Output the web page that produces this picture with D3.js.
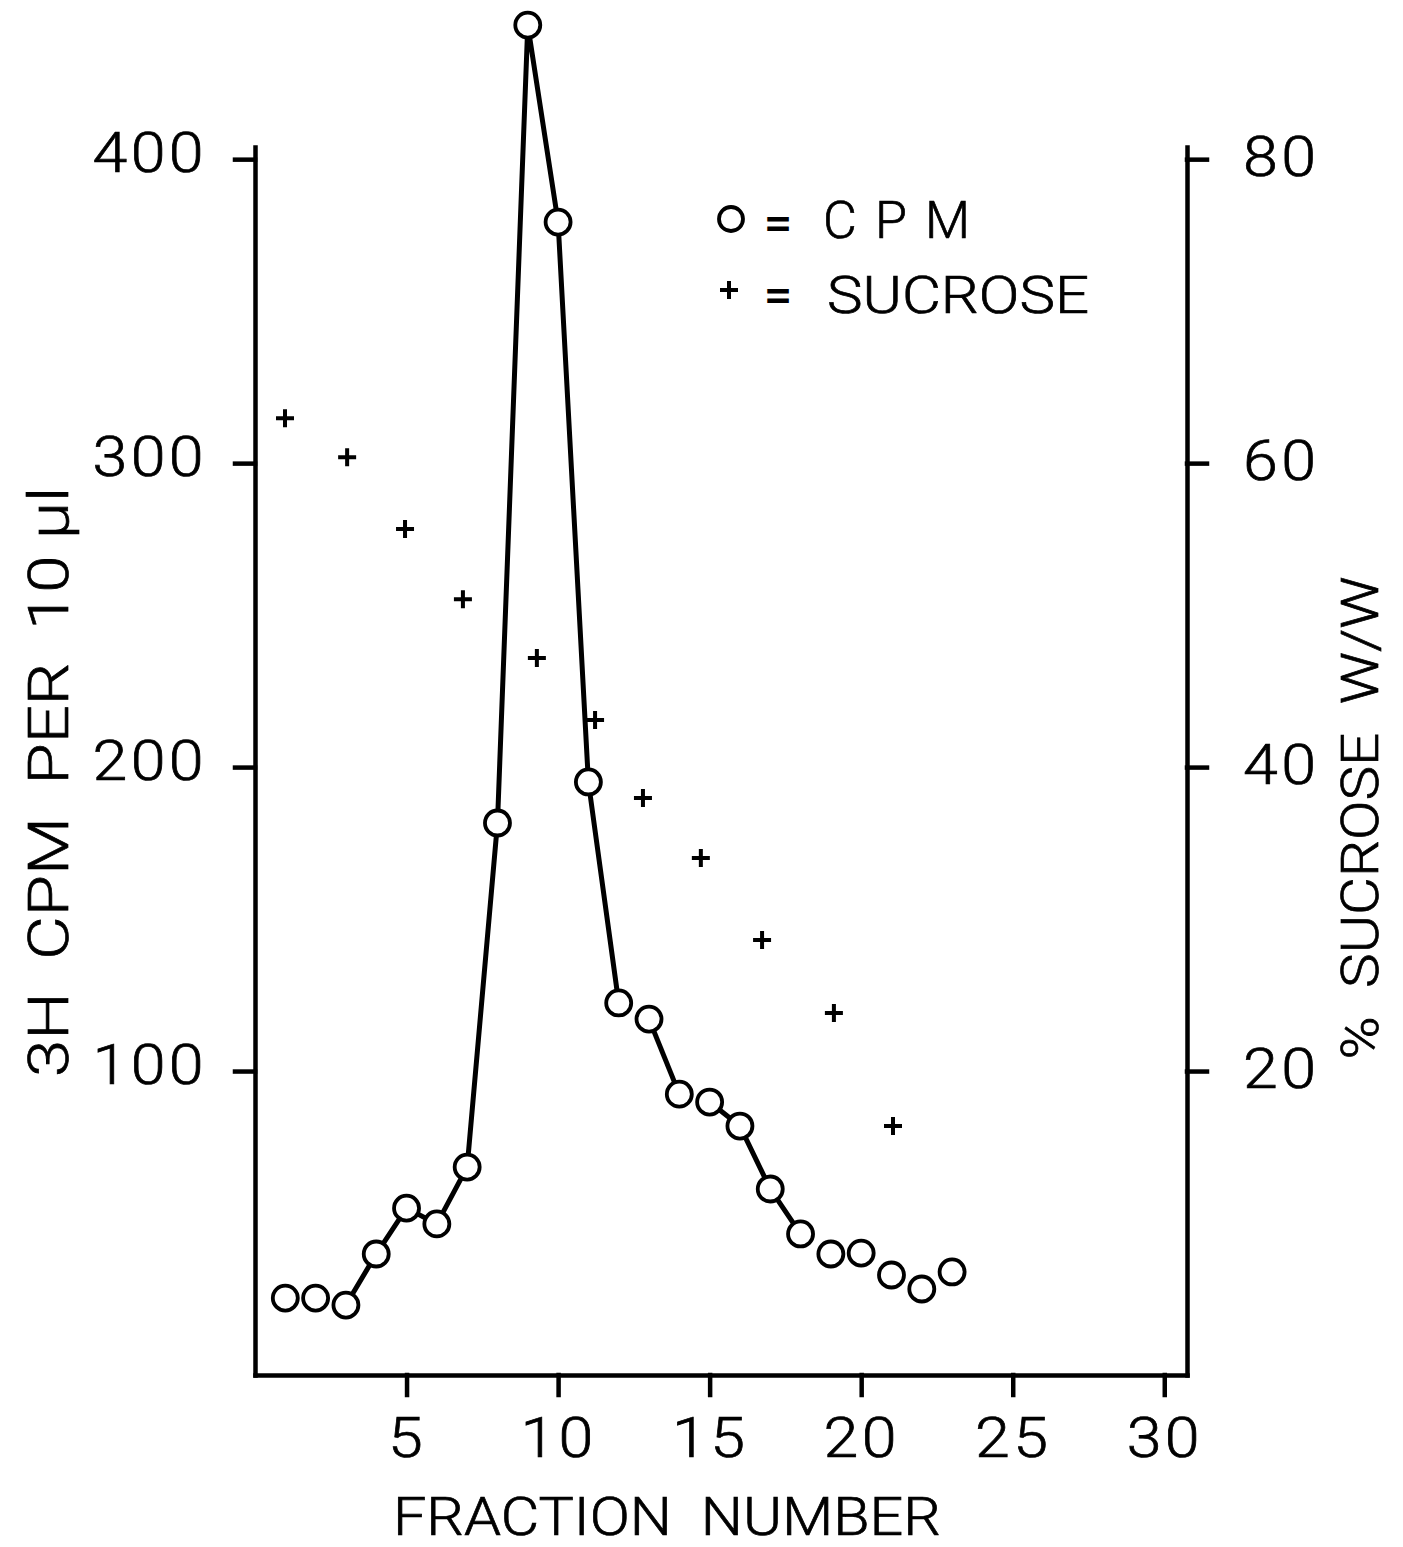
<!DOCTYPE html>
<html>
<head>
<meta charset="utf-8">
<script src="https://cdn.jsdelivr.net/npm/d3@7"></script>
<style>
    body { margin: 0; background: #fff; }
    svg text { font-family: Roboto, "DejaVu Sans", sans-serif; font-weight: 300; fill: #000; stroke: #000; stroke-width: 0.7px; }
</style>
</head>
<body>
<div id="chart" style="width:1403px;height:1547px"></div>
<script>
// fraction number and 3H cpm per 10 ul (circles)
const fractions = d3.range(1, 24);
const cpm = [25.3, 25.3, 23.0, 39.8, 54.9, 49.7, 68.4, 181.6, 444.1, 379.3, 195.1, 122.4,
    117.1, 92.4, 89.8, 81.9, 61.2, 46.4, 39.8, 40.1, 32.9, 28.3, 33.9];
// stretches of fractions the pen joined up
const cpmRuns = [[3, 12], [13, 14], [15, 18]];

const sucroseFraction = [0.99, 3.04, 4.95, 6.86, 9.30, 11.22, 12.80, 14.71, 16.73, 19.10, 21.05];
const sucrose = [62.96, 60.39, 55.66, 51.05, 47.17, 43.09, 37.96, 34.01, 28.62, 23.82, 16.38];

const xTicks = [5, 10, 15, 20, 25, 30];
const cpmTicks = [100, 200, 300, 400];
const sucroseTicks = [20, 40, 60, 80];
const xMax = 30.75, cpmMax = 404, sucroseMax = 80.8;

function fractionChart (el) {
    const _width = el.offsetWidth;
    const _height = el.offsetHeight;
    const _margins = { top: 147, left: 255, right: 216, bottom: 172 };
    const _w = _width - _margins.left - _margins.right;
    const _h = _height - _margins.top - _margins.bottom;

    const _x = d3.scaleLinear().domain([0, xMax]).range([0, _w]);
    const _yL = d3.scaleLinear().domain([0, cpmMax]).range([_h, 0]);
    const _yR = d3.scaleLinear().domain([0, sucroseMax]).range([_h, 0]);

    const svg = d3.select(el).append('svg')
        .attr('width', _width)
        .attr('height', _height);

    const g = svg.append('g')
        .attr('transform', 'translate(' + _margins.left + ',' + _margins.top + ')');

    // widen the glyphs a bit, the lettering guide was broad
    function widen (sel, k) {
        sel.each(function () {
            const w = this.getComputedTextLength();
            d3.select(this)
                .attr('textLength', w * k)
                .attr('lengthAdjust', 'spacingAndGlyphs');
        });
    }

    function styleAxis (sel) {
        sel.selectAll('path.domain, line')
            .attr('stroke', '#000')
            .attr('stroke-width', 4.5)
            .attr('stroke-linecap', 'square');
        sel.selectAll('text')
            .attr('font-size', 56)
            .attr('letter-spacing', 3)
            .call(widen, 1.12);
        sel.attr('font-family', null);
    }

    g.append('g')
        .attr('transform', 'translate(0,' + _h + ')')
        .call(d3.axisBottom(_x).tickValues(xTicks).tickSize(20).tickSizeOuter(0).tickPadding(22))
        .call(styleAxis);

    g.append('g')
        .call(d3.axisLeft(_yL).tickValues(cpmTicks).tickSize(20).tickSizeOuter(0).tickPadding(28))
        .call(styleAxis)
        .selectAll('text').attr('dy', '0.22em');

    g.append('g')
        .attr('transform', 'translate(' + _w + ',0)')
        .call(d3.axisRight(_yR).tickValues(sucroseTicks).tickSize(20).tickSizeOuter(0).tickPadding(36))
        .call(styleAxis)
        .selectAll('text').attr('dy', '0.3em');

    // cpm line, only where the points were joined
    const pts = fractions.map((f, i) => ({ x: f, y: cpm[i] }));
    const line = d3.line()
        .x(d => _x(d.x))
        .y(d => _yL(d.y));

    g.selectAll('path.cpm')
        .data(cpmRuns.map(r => pts.filter(d => d.x >= r[0] && d.x <= r[1])))
        .enter()
        .append('path')
        .attr('class', 'cpm')
        .attr('fill', 'none')
        .attr('stroke', '#000')
        .attr('stroke-width', 5)
        .attr('stroke-linejoin', 'round')
        .attr('d', line);

    g.selectAll('circle.cpm')
        .data(pts)
        .enter()
        .append('circle')
        .attr('class', 'cpm')
        .attr('cx', d => _x(d.x))
        .attr('cy', d => _yL(d.y))
        .attr('r', 12.5)
        .attr('fill', '#fff')
        .attr('stroke', '#000')
        .attr('stroke-width', 3.8);

    const cross = 'M-9,0H9M0,-9V9';
    g.selectAll('path.sucrose')
        .data(sucrose.map((v, i) => ({ x: sucroseFraction[i], y: v })))
        .enter()
        .append('path')
        .attr('class', 'sucrose')
        .attr('transform', d => 'translate(' + _x(d.x) + ',' + _yR(d.y) + ')')
        .attr('d', cross)
        .attr('stroke', '#000')
        .attr('stroke-width', 4);

    // legend
    const leg = svg.append('g');
    leg.append('circle')
        .attr('cx', 731).attr('cy', 219).attr('r', 12)
        .attr('fill', '#fff').attr('stroke', '#000').attr('stroke-width', 3.8);
    leg.append('path')
        .attr('transform', 'translate(729,290)')
        .attr('d', cross)
        .attr('stroke', '#000').attr('stroke-width', 4);
    [['=', 778, 240], ['=', 778, 312]].forEach(t => {
        leg.append('text').attr('x', t[1]).attr('y', t[2])
            .attr('text-anchor', 'middle').attr('font-size', 48)
            .style('stroke-width', '2px').text(t[0]);
    });
    leg.append('text').attr('x', 823).attr('y', 238)
        .attr('font-size', 52).attr('textLength', 147).attr('lengthAdjust', 'spacing')
        .text('C P M');
    leg.append('text').attr('x', 827).attr('y', 313)
        .attr('font-size', 52).attr('textLength', 262).attr('lengthAdjust', 'spacingAndGlyphs')
        .text('SUCROSE');

    // axis titles
    svg.append('text')
        .attr('x', 667).attr('y', 1535)
        .attr('text-anchor', 'middle')
        .attr('font-size', 54)
        .attr('textLength', 548).attr('lengthAdjust', 'spacingAndGlyphs')
        .attr('xml:space', 'preserve')
        .text('FRACTION  NUMBER');

    svg.append('text')
        .attr('transform', 'translate(68,782) rotate(-90)')
        .attr('text-anchor', 'middle')
        .attr('font-size', 56)
        .attr('textLength', 590).attr('lengthAdjust', 'spacingAndGlyphs')
        .attr('xml:space', 'preserve')
        .text('3H  CPM  PER  10 \u03bcl');

    svg.append('text')
        .attr('transform', 'translate(1378,818) rotate(-90)')
        .attr('text-anchor', 'middle')
        .attr('font-size', 52)
        .attr('textLength', 483).attr('lengthAdjust', 'spacingAndGlyphs')
        .attr('xml:space', 'preserve')
        .text('%  SUCROSE  W/W');
}

fractionChart(document.getElementById('chart'));
</script>
</body>
</html>
